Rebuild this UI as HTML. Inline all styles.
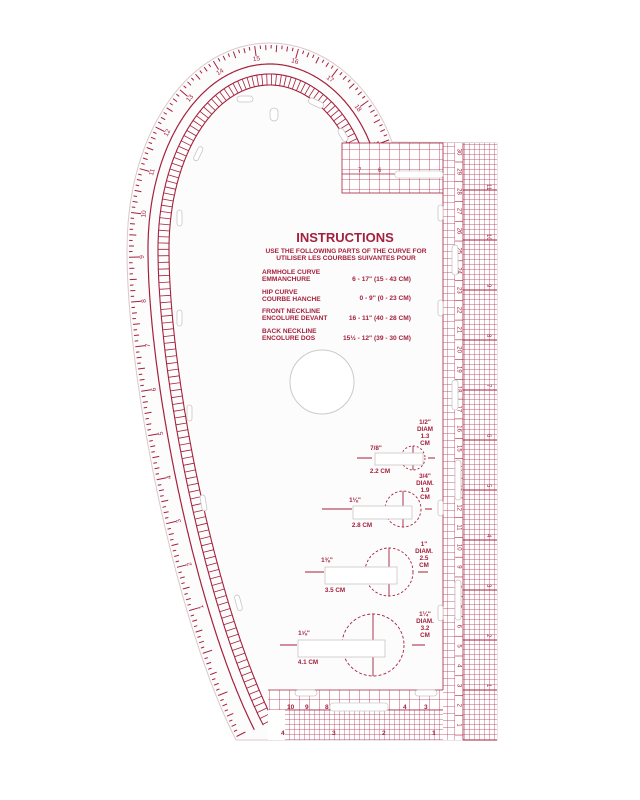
<!DOCTYPE html>
<html><head><meta charset="utf-8">
<style>
html,body{margin:0;padding:0;background:#fff;}
svg{display:block;}
text{font-family:"Liberation Sans",sans-serif;}
.ins{fill:#a3213d;font-weight:bold;}
</style></head>
<body>
<svg id="s" width="640" height="800" viewBox="0 0 640 800" xmlns="http://www.w3.org/2000/svg">
<defs>
<pattern id="fine" width="5" height="5" patternUnits="userSpaceOnUse">
<path d="M5 0V5M0 5H5" stroke="#b02a4a" stroke-width="0.7" fill="none"/>
</pattern>
<pattern id="coarse" width="7" height="7" patternUnits="userSpaceOnUse">
<path d="M7 0V7M0 7H7" stroke="#b02a4a" stroke-width="0.7" fill="none"/>
</pattern>
<pattern id="med" width="10" height="10" patternUnits="userSpaceOnUse">
<path d="M10 0V10M0 10H10" stroke="#b02a4a" stroke-width="0.8" fill="none"/>
</pattern>
<clipPath id="cl"><path id="shapeClip" d=""/></clipPath>
</defs>
<path id="outer" d="M392,142 C370,80 320,43 270,43 C190,43 127,130 127,250 C127,380 175,620 236,740" fill="none" stroke="none"/>
<path id="shape" d="M392,142 C370,80 320,43 270,43 C190,43 127,130 127,250 C127,380 175,620 236,740 L497,740 L497,143 Z" fill="#fdfcfc" stroke="#d9c8cf" stroke-width="1"/>
<g id="curves" clip-path="url(#cl)"></g>

<!-- right strip -->
<rect x="443" y="143" width="54" height="597" fill="#fff"/>
<rect x="443" y="143" width="12" height="597" fill="url(#coarse)"/>
<rect x="463" y="143" width="34" height="597" fill="url(#fine)"/>
<line x1="463" y1="143" x2="463" y2="740" stroke="#a3213d" stroke-width="0.8"/>
<line x1="443" y1="193" x2="443" y2="690" stroke="#a3213d" stroke-width="0.8"/>
<g id="rs" fill="#a3213d" font-size="6"></g>
<!-- top block -->
<rect x="342" y="143" width="101" height="50" fill="#fff"/>
<rect x="342" y="143" width="101" height="50" fill="url(#med)"/>
<rect x="342" y="143" width="101" height="50" fill="none" stroke="#a3213d" stroke-width="0.8"/>
<line x1="342" y1="174" x2="443" y2="174" stroke="#a3213d" stroke-width="0.8"/>
<rect x="395" y="171" width="48" height="7" rx="3" fill="#fff" stroke="#ccc" stroke-width="0.7"/>
<text x="358" y="172" font-size="6" fill="#a3213d">7</text><text x="378" y="172" font-size="6" fill="#a3213d">6</text>
<!-- bottom block -->
<rect x="268" y="690" width="175" height="50" fill="#fff"/>
<rect x="268" y="690" width="175" height="20" fill="url(#med)"/>
<rect x="285" y="710" width="158" height="30" fill="url(#fine)"/>
<line x1="268" y1="690" x2="443" y2="690" stroke="#a3213d" stroke-width="0.8"/>
<line x1="285" y1="710" x2="443" y2="710" stroke="#a3213d" stroke-width="0.8"/>
<rect x="330" y="703" width="58" height="8" rx="3" fill="#fff" stroke="#ccc" stroke-width="0.7"/>
<g fill="#a3213d" font-size="6.5" font-weight="bold">
<text x="287" y="709">10</text><text x="305" y="709">9</text><text x="325" y="709">8</text><text x="403" y="709">4</text><text x="424" y="709">3</text>
<text x="281" y="735">4</text><text x="332" y="735">3</text><text x="382" y="735">2</text><text x="432" y="735">1</text>
</g>

<!-- slots -->
<g fill="#fff" stroke="#c9c4c6" stroke-width="0.8">
<rect x="237" y="96" width="16" height="6" rx="3"/>
<rect x="308" y="100" width="16" height="6" rx="3" transform="rotate(25 316 103)"/>
<rect x="270" y="108" width="8" height="13" rx="4"/>
<rect x="340" y="128" width="6" height="14" rx="3" transform="rotate(-30 343 135)"/>
<rect x="196" y="146" width="5" height="15" rx="2.5" transform="rotate(25 198 153)"/>
<rect x="177" y="210" width="5" height="16" rx="2.5"/>
<rect x="177" y="310" width="5" height="16" rx="2.5"/>
<rect x="187" y="405" width="5" height="16" rx="2.5"/>
<rect x="201" y="495" width="5" height="16" rx="2.5" transform="rotate(-10 203 503)"/>
<rect x="236" y="595" width="5" height="16" rx="2.5" transform="rotate(-15 238 603)"/>
<rect x="438" y="205" width="5" height="16" rx="2.5"/>
<rect x="438" y="300" width="5" height="16" rx="2.5"/>
<rect x="438" y="500" width="5" height="16" rx="2.5"/>
<rect x="438" y="605" width="5" height="16" rx="2.5"/>
<rect x="295" y="690" width="22" height="6" rx="3"/>
<rect x="415" y="690" width="22" height="6" rx="3"/>
<rect x="452" y="245" width="6" height="30" rx="3"/>
<rect x="452" y="380" width="6" height="30" rx="3"/>
<rect x="455" y="460" width="6" height="40" rx="3"/>
<rect x="455" y="580" width="6" height="40" rx="3"/>
</g>
<circle cx="322" cy="382" r="32" fill="#fff" stroke="#cdc9cb" stroke-width="1"/>

<!-- instructions -->
<text class="ins" x="345" y="242" font-size="13" text-anchor="middle">INSTRUCTIONS</text>
<text class="ins" x="346" y="253" font-size="6.6" text-anchor="middle">USE THE FOLLOWING PARTS OF THE CURVE FOR</text>
<text class="ins" x="346" y="260" font-size="6.6" text-anchor="middle">UTILISER LES COURBES SUIVANTES POUR</text>
<g class="ins" font-size="6.6">
<text x="262" y="274">ARMHOLE CURVE</text><text x="262" y="281">EMMANCHURE</text>
<text x="262" y="294">HIP CURVE</text><text x="262" y="301">COURBE HANCHE</text>
<text x="262" y="313">FRONT NECKLINE</text><text x="262" y="320">ENCOLURE DEVANT</text>
<text x="262" y="333">BACK NECKLINE</text><text x="262" y="340">ENCOLURE DOS</text>
</g>
<g class="ins" font-size="6.6" text-anchor="end">
<text x="411" y="281">6 - 17" (15 - 43 CM)</text>
<text x="411" y="300">0 - 9" (0 - 23 CM)</text>
<text x="411" y="320">16 - 11" (40 - 28 CM)</text>
<text x="411" y="340">15½ - 12" (39 - 30 CM)</text>
</g>

<!-- buttonhole gauges -->
<g stroke="#a3213d" fill="none" stroke-width="0.9">
<circle cx="413" cy="458" r="12" stroke-dasharray="2 2"/>
<circle cx="403" cy="509" r="18" stroke-dasharray="2.5 2"/>
<circle cx="389" cy="572" r="24" stroke-dasharray="2.5 2"/>
<circle cx="373" cy="645" r="31" stroke-dasharray="3 2"/>
<path d="M357 458H372M413 446V470M428 458H435"/>
<path d="M322 509H352M403 491V527M425 509H432"/>
<path d="M305 572H324M389 548V596M418 572H428"/>
<path d="M280 645H297M373 614V676M412 645H425"/>
</g>
<g fill="#fff" stroke="#c9c4c6" stroke-width="0.8">
<rect x="375" y="453" width="48" height="12"/>
<rect x="353" y="506" width="59" height="13"/>
<rect x="325" y="567" width="72" height="17"/>
<rect x="298" y="640" width="87" height="17"/>
</g>
<g fill="#a3213d" font-size="6.3" font-weight="bold" text-anchor="middle">
<text x="376" y="450">7/8"</text><text x="380" y="473">2.2 CM</text>
<text x="355" y="502">1⅛"</text><text x="362" y="527">2.8 CM</text>
<text x="327" y="562">1⅜"</text><text x="335" y="592">3.5 CM</text>
<text x="304" y="635">1⅝"</text><text x="308" y="664">4.1 CM</text>
<text x="425" y="424">1/2"</text><text x="425" y="431">DIAM</text><text x="425" y="438">1.3</text><text x="425" y="445">CM</text>
<text x="425" y="478">3/4"</text><text x="425" y="485">DIAM.</text><text x="425" y="492">1.9</text><text x="425" y="499">CM</text>
<text x="424" y="546">1"</text><text x="424" y="553">DIAM.</text><text x="424" y="560">2.5</text><text x="424" y="567">CM</text>
<text x="425" y="616">1¼"</text><text x="425" y="623">DIAM.</text><text x="425" y="630">3.2</text><text x="425" y="637">CM</text>
</g>
</svg>
<script>
(function(){
var NS="http://www.w3.org/2000/svg";
var p=document.getElementById('outer');
document.getElementById('shapeClip').setAttribute('d',document.getElementById('shape').getAttribute('d'));
var L=p.getTotalLength();
var g=document.getElementById('curves');
function pt(s){var a=p.getPointAtLength(Math.max(0,Math.min(L,s)));var b=p.getPointAtLength(Math.max(0,Math.min(L,s+0.5)));var c=p.getPointAtLength(Math.max(0,s-0.5));var tx=b.x-c.x,ty=b.y-c.y,m=Math.hypot(tx,ty)||1;tx/=m;ty/=m;return{x:a.x,y:a.y,tx:tx,ty:ty,nx:ty,ny:-tx};}
function el(n,at){var e=document.createElementNS(NS,n);for(var k in at)e.setAttribute(k,at[k]);g.appendChild(e);return e;}
function off(d){var s="";for(var i=0;i<=L;i+=2){var q=pt(i);s+=(i?"L":"M")+(q.x+q.nx*d).toFixed(1)+","+(q.y+q.ny*d).toFixed(1);}return s;}
var col="#a3213d";
el('path',{d:off(21),stroke:col,'stroke-width':1.2,fill:'none'});
el('path',{d:off(31),stroke:col,'stroke-width':1.1,fill:'none'});
el('path',{d:off(42),stroke:col,'stroke-width':1.1,fill:'none'});
var rd="";for(var s=4;s<L;s+=7){var q=pt(s);rd+="M"+(q.x+q.nx*31).toFixed(1)+","+(q.y+q.ny*31).toFixed(1)+"L"+(q.x+q.nx*42).toFixed(1)+","+(q.y+q.ny*42).toFixed(1);}
el('path',{d:rd,stroke:col,'stroke-width':0.8,fill:'none'});
var td="";var step=45/8;var k=0;
for(var s=3;s<L;s+=step,k++){var q=pt(s);var len=(k%8==0)?10:(k%4==0)?7:(k%2==0)?5:3.5;
td+="M"+(q.x+q.nx*2).toFixed(1)+","+(q.y+q.ny*2).toFixed(1)+"L"+(q.x+q.nx*(2+len)).toFixed(1)+","+(q.y+q.ny*(2+len)).toFixed(1);
if(k%8==0){var n=Math.round(18.6-s/45);if(n>0){var x=q.x+q.nx*15,y=q.y+q.ny*15;var ang=Math.atan2(q.ty,q.tx)*180/Math.PI+180;
var t=el('text',{x:x.toFixed(1),y:y.toFixed(1),'font-size':6.5,fill:col,'text-anchor':'middle','dominant-baseline':'middle',transform:'rotate('+ang.toFixed(1)+' '+x.toFixed(1)+' '+y.toFixed(1)+')'});t.textContent=n;}}}
el('path',{d:td,stroke:col,'stroke-width':1,fill:'none'});
var rs=document.getElementById('rs');
for(var n=30;n>=1;n--){var y=152+(30-n)*19.76;var t=document.createElementNS(NS,'text');t.setAttribute('x',459);t.setAttribute('y',y);t.setAttribute('text-anchor','middle');t.setAttribute('dominant-baseline','middle');t.setAttribute('transform','rotate(90 459 '+y+')');t.textContent=n;rs.appendChild(t);
var l=document.createElementNS(NS,'line');l.setAttribute('x1',455);l.setAttribute('x2',463);l.setAttribute('y1',y+10);l.setAttribute('y2',y+10);l.setAttribute('stroke',col);l.setAttribute('stroke-width',0.6);rs.appendChild(l);}
for(var i=0;i<12;i++){var y=190+i*50;var l=document.createElementNS(NS,'line');l.setAttribute('x1',463);l.setAttribute('x2',497);l.setAttribute('y1',y);l.setAttribute('y2',y);l.setAttribute('stroke',col);l.setAttribute('stroke-width',1);rs.appendChild(l);
var t=document.createElementNS(NS,'text');t.setAttribute('x',487);t.setAttribute('y',y-6);t.setAttribute('transform','rotate(90 487 '+(y-6)+')');t.textContent=(11-i);if(11-i>0)rs.appendChild(t);}
})();
</script>
</body></html>
